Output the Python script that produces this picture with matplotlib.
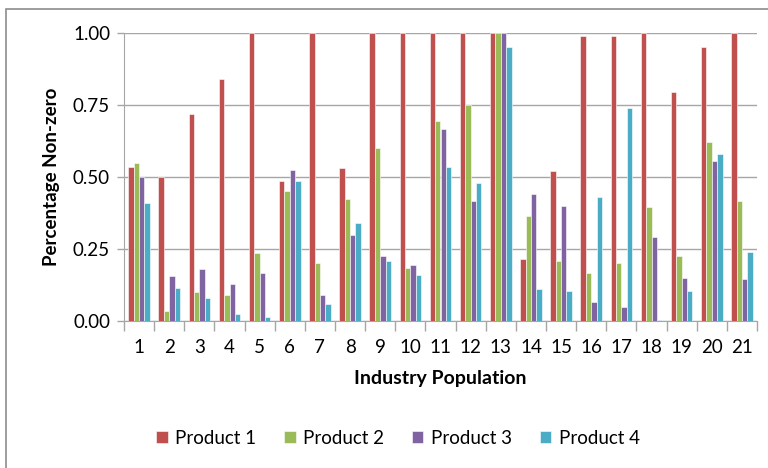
import matplotlib

matplotlib.use("Agg")
import matplotlib.pyplot as plt
import numpy as np
from matplotlib.patches import Rectangle

plt.rcParams["font.family"] = ["Lato", "DejaVu Sans"]

populations = [str(i) for i in range(1, 22)]
product1 = [0.535, 0.50, 0.72, 0.84, 1.00, 0.485, 1.00, 0.53, 1.00, 1.00, 1.00,
            1.00, 1.00, 0.215, 0.52, 0.99, 0.99, 1.00, 0.795, 0.95, 1.00]
product2 = [0.55, 0.035, 0.10, 0.09, 0.235, 0.45, 0.20, 0.425, 0.60, 0.185, 0.695,
            0.75, 1.00, 0.365, 0.21, 0.165, 0.20, 0.395, 0.225, 0.62, 0.415]
product3 = [0.50, 0.155, 0.18, 0.13, 0.165, 0.525, 0.09, 0.30, 0.225, 0.195, 0.665,
            0.415, 1.00, 0.44, 0.40, 0.065, 0.05, 0.29, 0.15, 0.555, 0.145]
product4 = [0.41, 0.115, 0.08, 0.025, 0.013, 0.485, 0.06, 0.34, 0.21, 0.16, 0.535,
            0.48, 0.95, 0.11, 0.105, 0.43, 0.74, 0.005, 0.105, 0.58, 0.24]
series = ["Product 1", "Product 2", "Product 3", "Product 4"]
COLS = ["#C0504D", "#9BBB59", "#8064A2", "#4BACC6"]
GRID = "#A6A6A6"

W, H = 768, 468
fig = plt.figure(figsize=(W / 100, H / 100), dpi=100)
# outer chart frame
fig.patches.append(Rectangle((6 / W, -0.1), 1.2, 1 - 9 / H + 0.1, transform=fig.transFigure,
                             fill=False, edgecolor="#8C8C8C", lw=1.2))
ax = fig.add_axes([124 / W, 1 - 321 / H, (757 - 124) / W, (321 - 33) / H])

x = np.arange(len(populations)); w = 0.18
for k, (vals, name) in enumerate(zip([product1, product2, product3, product4], series)):
    ax.bar(x + (k - 1.5) * w, vals, w, color=COLS[k], edgecolor="white", lw=0.4,
           label=name, zorder=3)

ax.set_xlim(-0.5, len(populations) - 0.5)
ax.set_ylim(0, 1.0)
ax.set_yticks([0, 0.25, 0.5, 0.75, 1.0])
ax.set_yticklabels([f"{v:.2f}" for v in [0, 0.25, 0.5, 0.75, 1.0]])
ax.set_xticks(x); ax.set_xticklabels(populations)
ax.set_xticks(np.arange(-0.5, len(populations)), minor=True)
ax.tick_params(axis="x", which="major", length=0, pad=13, labelsize=13.5)
ax.tick_params(axis="x", which="minor", length=7, color=GRID, width=1)
ax.tick_params(axis="y", length=5, color=GRID, width=1, labelsize=13.5, pad=5)
ax.grid(axis="y", color=GRID, lw=1, zorder=0)
for s in ["top", "right"]:
    ax.spines[s].set_visible(False)
for s in ["left", "bottom"]:
    ax.spines[s].set_color(GRID)
ax.set_xlabel("Industry Population", fontsize=14, fontweight="bold", labelpad=10)
ax.set_ylabel("Percentage Non-zero", fontsize=13.5, fontweight="bold", labelpad=9)
fig.legend(loc="center", bbox_to_anchor=(398 / W, 1 - 438 / H), ncol=4, frameon=False,
           fontsize=13.5, handlelength=0.6, handleheight=0.6, columnspacing=1.5, handletextpad=0.4)

fig.savefig("out.png", dpi=100)
